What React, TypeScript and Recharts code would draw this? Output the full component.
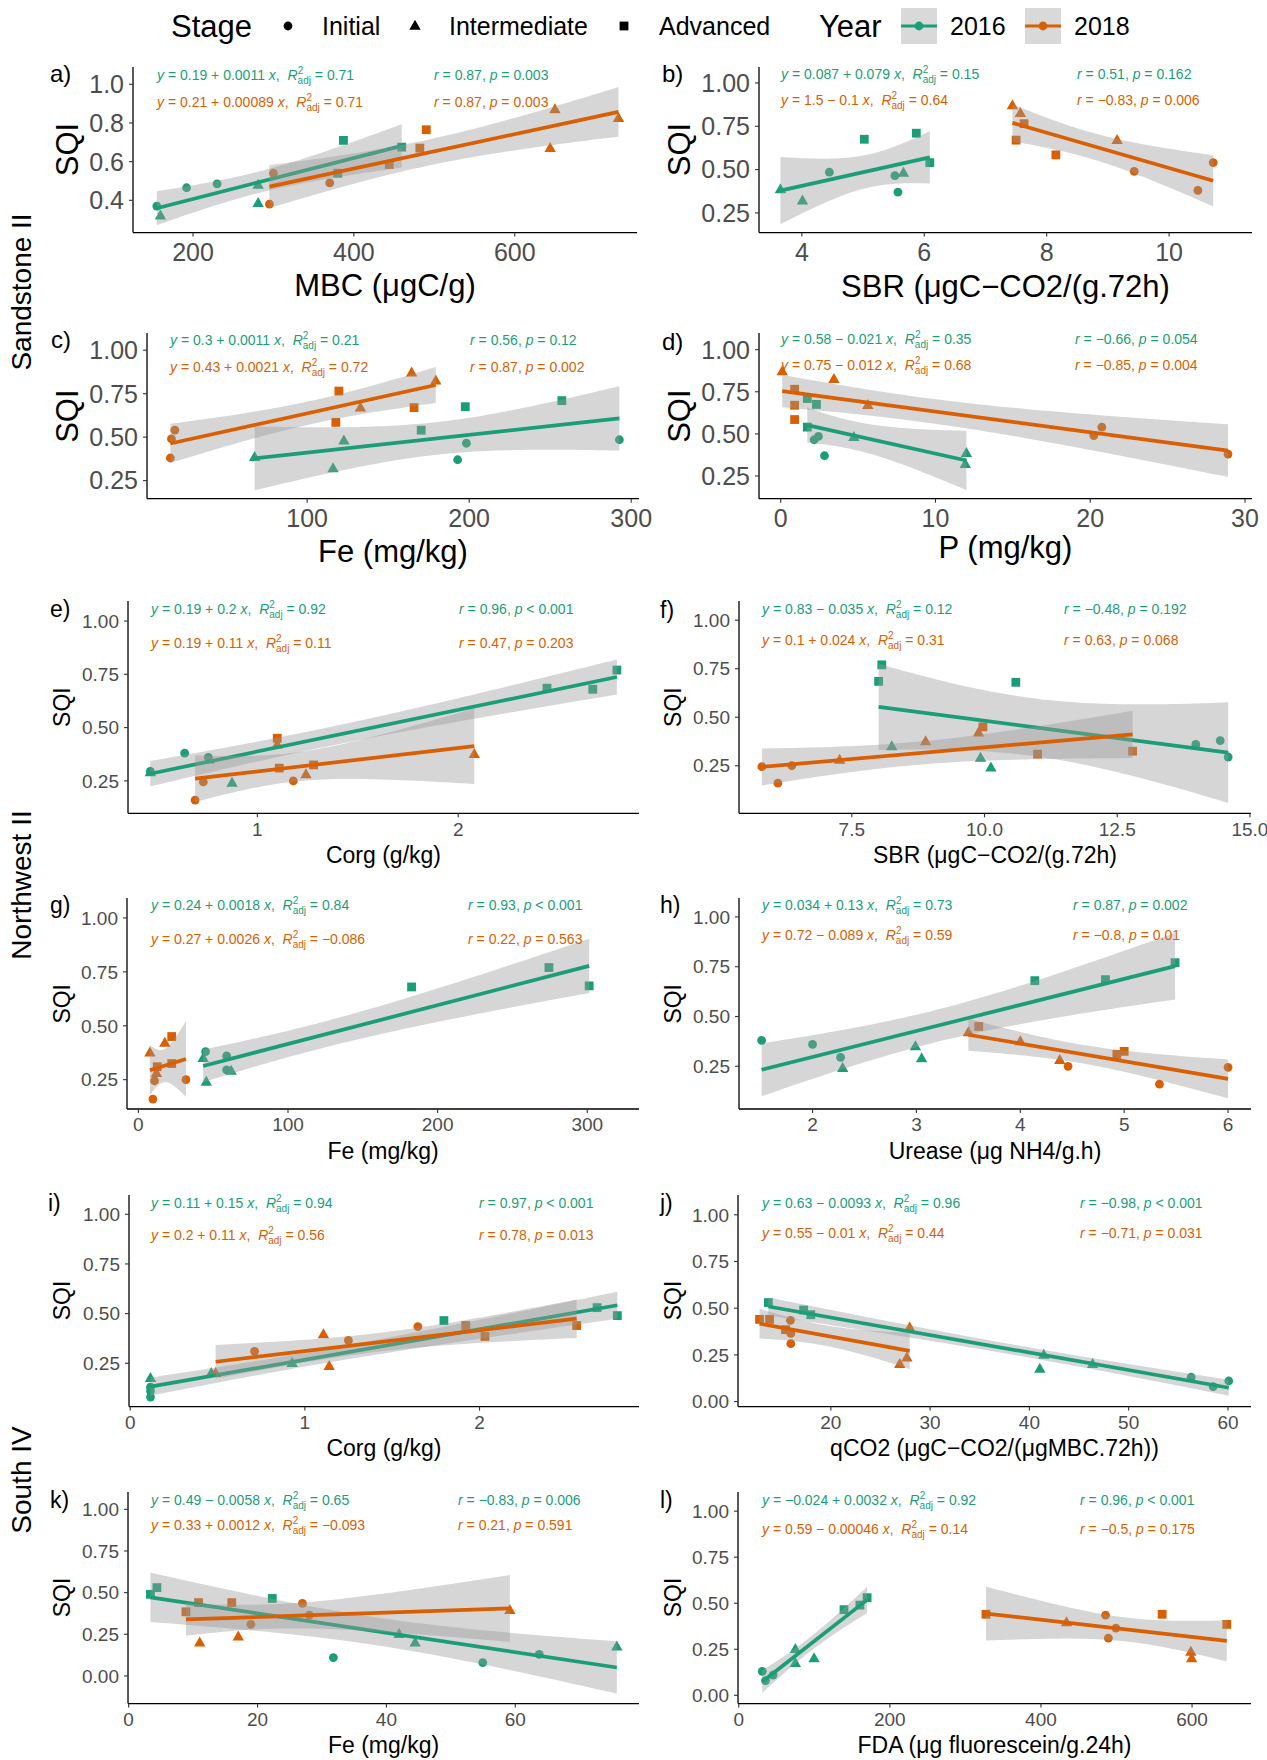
import React from 'react';
import { ComposedChart, XAxis, YAxis, Scatter, Line, Area } from 'recharts';

const GREEN = '#1b9e77';
const ORANGE = '#d95f02';
const FONT = '"Liberation Sans", Arial, Helvetica, sans-serif';

// ---------- data ----------
const stageNames = ['Initial', 'Intermediate', 'Advanced'];
const yearNames = ['2016', '2018'];
const sampleStage = ['Initial', 'Initial', 'Initial', 'Intermediate', 'Intermediate', 'Intermediate', 'Advanced', 'Advanced', 'Advanced'];

const sqiSandstone2016 = [0.37, 0.465, 0.485, 0.32, 0.385, 0.48, 0.54, 0.675, 0.71];
const sqiSandstone2018 = [0.38, 0.49, 0.54, 0.67, 0.825, 0.87, 0.585, 0.67, 0.765];
const sqiNorthwest2016 = [0.38, 0.36, 0.295, 0.24, 0.35, 0.29, 0.68, 0.685, 0.77];
const sqiNorthwest2018 = [0.16, 0.245, 0.25, 0.42, 0.375, 0.28, 0.45, 0.31, 0.325];
const sqiSouth2016 = [0.13, 0.08, 0.11, 0.25, 0.2, 0.175, 0.49, 0.53, 0.465];
const sqiSouth2018 = [0.31, 0.435, 0.365, 0.2, 0.235, 0.395, 0.385, 0.44, 0.44];

const mbcSandstone2016 = [155, 192, 230, 159.5, 281, 281, 380, 459.5, 387];
const mbcSandstone2018 = [295, 370, 300, 644, 729, 650, 444, 482, 490];
const sbrSandstone2016 = [5.57, 5.52, 4.45, 4.01, 3.65, 5.66, 6.09, 5.02, 5.87];
const sbrSandstone2018 = [10.47, 9.43, 10.72, 9.15, 7.57, 7.44, 8.15, 7.5, 7.63];
const feSandstone2016 = [192.9, 198.3, 292.7, 116, 67.6, 122.7, 170.4, 197.6, 257.2];
const feSandstone2018 = [15.6, 16.3, 18.4, 132.9, 179.4, 164.5, 117.7, 166, 119.6];
const pSandstone2016 = [2.83, 2.16, 2.44, 11.93, 12.0, 4.73, 1.72, 2.31, 1.72];
const pSandstone2018 = [28.9, 20.23, 20.75, 5.63, 3.44, 0.1, 0.9, 0.9, 0.9];
const corgNorthwest2016 = [0.638, 0.756, 0.467, 0.874, 0.76, 0.467, 2.67, 2.442, 2.79];
const corgNorthwest2018 = [0.69, 0.731, 1.179, 1.099, 2.08, 1.242, 1.099, 1.109, 1.28];
const sbrNorthwest2016 = [14.44, 13.98, 14.59, 10.12, 8.253, 9.925, 10.59, 8.005, 8.065];
const sbrNorthwest2018 = [6.107, 5.806, 6.37, 9.887, 8.89, 7.27, 9.97, 11.0, 12.79];
const feNorthwest2016 = [44.9, 59, 59, 45.4, 43.3, 62, 182.6, 301.3, 274.4];
const feNorthwest2018 = [9.7, 10.8, 31.8, 17.7, 7.7, 12.1, 22.3, 12.6, 22.3];
const ureaseNorthwest2016 = [1.51, 2.0, 2.27, 2.29, 2.99, 3.05, 4.14, 4.82, 5.49];
const ureaseNorthwest2018 = [5.34, 6.0, 4.46, 3.5, 4.0, 4.38, 3.6, 4.93, 5.0];
const corgSouth2016 = [0.116, 0.116, 0.116, 0.927, 0.464, 0.116, 2.789, 2.673, 1.796];
const corgSouth2018 = [0.712, 1.647, 1.249, 0.489, 1.139, 1.106, 2.031, 1.921, 2.556];
const qco2South2016 = [56.29, 58.51, 60.08, 41.45, 46.37, 41.05, 17.26, 13.71, 17.98];
const qco2South2018 = [15.97, 15.93, 15.97, 26.94, 27.66, 27.94, 15.44, 12.82, 13.83];
const feSouth2016 = [63.72, 54.95, 31.77, 41.97, 44.46, 75.76, 3.38, 4.39, 22.29];
const feSouth2018 = [18.97, 26.97, 28.04, 11.03, 17.01, 59.16, 8.89, 10.85, 16.0];
const fdaSouth2016 = [31.1, 35.4, 45.4, 74.9, 99.7, 74.9, 160.4, 169.9, 139.3];
const fdaSouth2018 = [489.2, 485.5, 499.2, 599.5, 598.4, 433.8, 645.9, 327.2, 560.4];

const panelTags = ['a)', 'b)', 'c)', 'd)', 'e)', 'f)', 'g)', 'h)', 'i)', 'j)', 'k)', 'l)'];
const xTitles = [
  'MBC (μgC/g)', 'SBR (μgC−CO2/(g.72h)', 'Fe (mg/kg)', 'P (mg/kg)',
  'Corg (g/kg)', 'SBR (μgC−CO2/(g.72h)', 'Fe (mg/kg)', 'Urease (μg NH4/g.h)',
  'Corg (g/kg)', 'qCO2 (μgC−CO2/(μgMBC.72h))', 'Fe (mg/kg)', 'FDA (μg fluorescein/g.24h)',
];
const stripLabels = ['Sandstone II', 'Northwest II', 'South IV'];

const eq2016 = ['0.19 + 0.0011', '0.087 + 0.079', '0.3 + 0.0011', '0.58 − 0.021', '0.19 + 0.2', '0.83 − 0.035', '0.24 + 0.0018', '0.034 + 0.13', '0.11 + 0.15', '0.63 − 0.0093', '0.49 − 0.0058', '−0.024 + 0.0032'];
const r2adj2016 = ['0.71', '0.15', '0.21', '0.35', '0.92', '0.12', '0.84', '0.73', '0.94', '0.96', '0.65', '0.92'];
const r2016 = ['0.87', '0.51', '0.56', '−0.66', '0.96', '−0.48', '0.93', '0.87', '0.97', '−0.98', '−0.83', '0.96'];
const p2016 = ['= 0.003', '= 0.162', '= 0.12', '= 0.054', '< 0.001', '= 0.192', '< 0.001', '= 0.002', '< 0.001', '< 0.001', '= 0.006', '< 0.001'];
const eq2018 = ['0.21 + 0.00089', '1.5 − 0.1', '0.43 + 0.0021', '0.75 − 0.012', '0.19 + 0.11', '0.1 + 0.024', '0.27 + 0.0026', '0.72 − 0.089', '0.2 + 0.11', '0.55 − 0.01', '0.33 + 0.0012', '0.59 − 0.00046'];
const r2adj2018 = ['0.71', '0.64', '0.72', '0.68', '0.11', '0.31', '−0.086', '0.59', '0.56', '0.44', '−0.093', '0.14'];
const r2018 = ['0.87', '−0.83', '0.87', '−0.85', '0.47', '0.63', '0.22', '−0.8', '0.78', '−0.71', '0.21', '−0.5'];
const p2018 = ['= 0.003', '= 0.006', '= 0.002', '= 0.004', '= 0.203', '= 0.068', '= 0.563', '= 0.01', '= 0.013', '= 0.031', '= 0.591', '= 0.175'];

const xTicksList = [
  [200, 400, 600], [4, 6, 8, 10], [100, 200, 300], [0, 10, 20, 30],
  [1, 2], [7.5, 10, 12.5, 15], [0, 100, 200, 300], [2, 3, 4, 5, 6],
  [0, 1, 2], [20, 30, 40, 50, 60], [0, 20, 40, 60], [0, 200, 400, 600],
];
const yTicksA = [0.4, 0.6, 0.8, 1.0];
const yTicksMid = [0.25, 0.5, 0.75, 1.0];
const yTicksLow = [0, 0.25, 0.5, 0.75, 1.0];

// ---------- layout ----------
type Cfg = {
  x16: number[]; y16: number[]; x18: number[]; y18: number[];
  rect: number[]; xDomain: number[]; yDomain: number[]; yTicks: number[];
  yDec: number; xDec: number; big: boolean;
  eqX: number; eqY16: number; eqY18: number; rX: number;
  tagX: number; tagY: number; titleY: number; sqiX: number;
};

const PANELS: Cfg[] = [
  { x16: mbcSandstone2016, y16: sqiSandstone2016, x18: mbcSandstone2018, y18: sqiSandstone2018,
    rect: [133, 637, 66.7, 232.3], xDomain: [125.4, 752], yDomain: [0.233, 1.0895], yTicks: yTicksA, yDec: 1, xDec: 0, big: true,
    eqX: 157, eqY16: 79.5, eqY18: 107, rX: 434, tagX: 50, tagY: 82, titleY: 296, sqiX: 78 },
  { x16: sbrSandstone2016, y16: sqiSandstone2016, x18: sbrSandstone2018, y18: sqiSandstone2018,
    rect: [759, 1252, 66.7, 232.3], xDomain: [3.3, 11.354], yDomain: [0.1365, 1.092], yTicks: yTicksMid, yDec: 2, xDec: 0, big: true,
    eqX: 781, eqY16: 78.5, eqY18: 105, rX: 1077, tagX: 662, tagY: 82, titleY: 297, sqiX: 690 },
  { x16: feSandstone2016, y16: sqiSandstone2016, x18: feSandstone2018, y18: sqiSandstone2018,
    rect: [147, 639, 333.3, 499], xDomain: [1.2, 304.8], yDomain: [0.146, 1.099], yTicks: yTicksMid, yDec: 2, xDec: 0, big: true,
    eqX: 170, eqY16: 344.5, eqY18: 372, rX: 470, tagX: 51, tagY: 348, titleY: 562, sqiX: 78 },
  { x16: pSandstone2016, y16: sqiSandstone2016, x18: pSandstone2018, y18: sqiSandstone2018,
    rect: [759, 1252, 333.3, 499], xDomain: [-1.4, 30.45], yDomain: [0.115, 1.099], yTicks: yTicksMid, yDec: 2, xDec: 0, big: true,
    eqX: 781, eqY16: 343.5, eqY18: 370, rX: 1075, tagX: 662, tagY: 350, titleY: 558, sqiX: 690 },
  { x16: corgNorthwest2016, y16: sqiNorthwest2016, x18: corgNorthwest2018, y18: sqiNorthwest2018,
    rect: [128, 639, 601, 813.3], xDomain: [0.356, 2.9], yDomain: [0.098, 1.094], yTicks: yTicksMid, yDec: 2, xDec: 0, big: false,
    eqX: 151, eqY16: 613.5, eqY18: 648, rX: 459, tagX: 50, tagY: 617, titleY: 863, sqiX: 70 },
  { x16: sbrNorthwest2016, y16: sqiNorthwest2016, x18: sbrNorthwest2018, y18: sqiNorthwest2018,
    rect: [739, 1251, 601, 813.3], xDomain: [5.375, 15.02], yDomain: [0.005, 1.099], yTicks: yTicksMid, yDec: 2, xDec: 1, big: false,
    eqX: 762, eqY16: 613.5, eqY18: 644.5, rX: 1064, tagX: 660, tagY: 618, titleY: 863, sqiX: 681 },
  { x16: feNorthwest2016, y16: sqiNorthwest2016, x18: feNorthwest2018, y18: sqiNorthwest2018,
    rect: [127, 639, 898.3, 1109.3], xDomain: [-7.6, 334.6], yDomain: [0.114, 1.0925], yTicks: yTicksMid, yDec: 2, xDec: 0, big: false,
    eqX: 151, eqY16: 910, eqY18: 943.5, rX: 468, tagX: 50, tagY: 913, titleY: 1159, sqiX: 70 },
  { x16: ureaseNorthwest2016, y16: sqiNorthwest2016, x18: ureaseNorthwest2018, y18: sqiNorthwest2018,
    rect: [739, 1251, 898.3, 1109.3], xDomain: [1.292, 6.221], yDomain: [0.0356, 1.095], yTicks: yTicksMid, yDec: 2, xDec: 0, big: false,
    eqX: 762, eqY16: 910, eqY18: 940, rX: 1073, tagX: 660, tagY: 913, titleY: 1159, sqiX: 681 },
  { x16: corgSouth2016, y16: sqiSouth2016, x18: corgSouth2018, y18: sqiSouth2018,
    rect: [129, 639, 1194.7, 1406.3], xDomain: [-0.007, 2.913], yDomain: [0.032, 1.097], yTicks: yTicksMid, yDec: 2, xDec: 0, big: false,
    eqX: 151, eqY16: 1207.5, eqY18: 1240, rX: 479, tagX: 48, tagY: 1211, titleY: 1456, sqiX: 70 },
  { x16: qco2South2016, y16: sqiSouth2016, x18: qco2South2018, y18: sqiSouth2018,
    rect: [738, 1251, 1194.7, 1406.3], xDomain: [10.65, 62.32], yDomain: [-0.027, 1.106], yTicks: yTicksLow, yDec: 2, xDec: 0, big: false,
    eqX: 762, eqY16: 1207.5, eqY18: 1237.5, rX: 1080, tagX: 660, tagY: 1211, titleY: 1456, sqiX: 681 },
  { x16: feSouth2016, y16: sqiSouth2016, x18: feSouth2018, y18: sqiSouth2018,
    rect: [128, 639, 1491.7, 1703.3], xDomain: [-0.1, 79.2], yDomain: [-0.166, 1.104], yTicks: yTicksLow, yDec: 2, xDec: 0, big: false,
    eqX: 151, eqY16: 1504.5, eqY18: 1530, rX: 458, tagX: 50, tagY: 1508, titleY: 1753, sqiX: 70 },
  { x16: fdaSouth2016, y16: sqiSouth2016, x18: fdaSouth2018, y18: sqiSouth2018,
    rect: [738, 1251, 1491.7, 1703.3], xDomain: [-1, 678], yDomain: [-0.045, 1.104], yTicks: yTicksLow, yDec: 2, xDec: 0, big: false,
    eqX: 762, eqY16: 1504.5, eqY18: 1533.5, rX: 1080, tagX: 660, tagY: 1508, titleY: 1753, sqiX: 681 },
];

// ---------- linear fit + 95% confidence band (as geom_smooth(method = "lm")) ----------
function fitLm(xs: number[], ys: number[]) {
  const n = xs.length;
  const mx = xs.reduce((s, v) => s + v, 0) / n;
  const my = ys.reduce((s, v) => s + v, 0) / n;
  let sxx = 0, sxy = 0;
  for (let i = 0; i < n; i++) { sxx += (xs[i] - mx) ** 2; sxy += (xs[i] - mx) * (ys[i] - my); }
  const b = sxy / sxx;
  const a = my - b * mx;
  let sse = 0;
  for (let i = 0; i < n; i++) sse += (ys[i] - a - b * xs[i]) ** 2;
  const s = Math.sqrt(sse / (n - 2));
  const t = 2.364624; // qt(0.975, 7)
  const lo = Math.min(...xs), hi = Math.max(...xs);
  const band: { x: number; band: number[] }[] = [];
  const steps = 80;
  for (let k = 0; k <= steps; k++) {
    const x = lo + ((hi - lo) * k) / steps;
    const yh = a + b * x;
    const se = s * Math.sqrt(1 / n + (x - mx) ** 2 / sxx);
    band.push({ x, band: [yh - t * se, yh + t * se] });
  }
  const line = [{ x: lo, y: a + b * lo }, { x: hi, y: a + b * hi }];
  return { band, line };
}

function markerPath(stage: string, cx: number, cy: number, color: string) {
  if (stage === 'Initial') return <circle cx={cx} cy={cy} r={4.4} fill={color} />;
  if (stage === 'Intermediate') {
    const w = 11.4, h = 10;
    return <polygon points={`${cx},${cy - h * 0.62} ${cx - w / 2},${cy + h * 0.38} ${cx + w / 2},${cy + h * 0.38}`} fill={color} />;
  }
  return <rect x={cx - 4.4} y={cy - 4.4} width={8.8} height={8.8} fill={color} />;
}

const makeShape = (stage: string, color: string) => (props: any) => {
  const { cx, cy } = props;
  if (cx == null || cy == null || isNaN(cx) || isNaN(cy)) return <g />;
  return markerPath(stage, cx, cy, color);
};

function Panel({ cfg }: { cfg: Cfg }) {
  const big = cfg.big;
  const YW = big ? 72 : 62;
  const MT = 12, MR = 26, XH = 48;
  const [l, r, t, b] = cfg.rect;
  const W = r - l + YW + MR;
  const H = b - t + MT + XH;
  const f16 = fitLm(cfg.x16, cfg.y16);
  const f18 = fitLm(cfg.x18, cfg.y18);
  const pts = (xs: number[], ys: number[], stage: string) =>
    xs.map((x, i) => ({ x, y: ys[i], stage: sampleStage[i] })).filter((d) => d.stage === stage);
  const tickFont = big ? 25 : 19;
  return (
    <div style={{ position: 'absolute', left: l - YW, top: t - MT, width: W, height: H }}>
      <ComposedChart width={W} height={H} margin={{ top: MT, right: MR, bottom: 0, left: 0 }}>
        <XAxis
          type="number" dataKey="x" domain={cfg.xDomain} ticks={xTicksList[PANELS.indexOf(cfg)]} allowDataOverflow
          height={XH} interval={0} tickSize={4} tickMargin={big ? 7 : 5}
          axisLine={{ stroke: '#000', strokeWidth: 1.3 }} tickLine={{ stroke: '#333', strokeWidth: 1.1 }}
          tick={{ fill: '#4d4d4d', fontSize: tickFont, fontFamily: FONT }}
          tickFormatter={(v: number) => (cfg.xDec ? v.toFixed(cfg.xDec) : String(v))}
        />
        <YAxis
          type="number" domain={cfg.yDomain} ticks={cfg.yTicks} allowDataOverflow
          width={YW} interval={0} tickSize={4} tickMargin={5}
          axisLine={{ stroke: '#000', strokeWidth: 1.3 }} tickLine={{ stroke: '#333', strokeWidth: 1.1 }}
          tick={{ fill: '#4d4d4d', fontSize: tickFont, fontFamily: FONT }}
          tickFormatter={(v: number) => v.toFixed(cfg.yDec)}
        />
        {stageNames.map((s) => (
          <Scatter key={'g' + s} name={'2016 ' + s} data={pts(cfg.x16, cfg.y16, s)} dataKey="y" fill={GREEN}
            shape={makeShape(s, GREEN)} isAnimationActive={false} zIndex={50} />
        ))}
        {stageNames.map((s) => (
          <Scatter key={'o' + s} name={'2018 ' + s} data={pts(cfg.x18, cfg.y18, s)} dataKey="y" fill={ORANGE}
            shape={makeShape(s, ORANGE)} isAnimationActive={false} zIndex={55} />
        ))}
        <Area data={f16.band} dataKey="band" stroke="none" fill="#999999" fillOpacity={0.4}
          isAnimationActive={false} dot={false} activeDot={false} zIndex={100} />
        <Line data={f16.line} dataKey="y" stroke={GREEN} strokeWidth={3.7} dot={false} activeDot={false}
          isAnimationActive={false} zIndex={110} />
        <Area data={f18.band} dataKey="band" stroke="none" fill="#999999" fillOpacity={0.4}
          isAnimationActive={false} dot={false} activeDot={false} zIndex={120} />
        <Line data={f18.line} dataKey="y" stroke={ORANGE} strokeWidth={3.7} dot={false} activeDot={false}
          isAnimationActive={false} zIndex={130} />
      </ComposedChart>
    </div>
  );
}

function EqText({ x, y, color, eq, r2 }: { x: number; y: number; color: string; eq: string; r2: string }) {
  return (
    <text x={x} y={y} fill={color} fontSize={14} style={{ whiteSpace: 'pre' }}>
      <tspan fontStyle="italic">y</tspan>
      <tspan>{' = ' + eq + ' '}</tspan>
      <tspan fontStyle="italic">x</tspan>
      <tspan>{',  '}</tspan>
      <tspan fontStyle="italic">R</tspan>
      <tspan fontSize={10} dy={-6}>2</tspan>
      <tspan fontSize={10} dx={-5.6} dy={10}>adj</tspan>
      <tspan dy={-4}>{' = ' + r2}</tspan>
    </text>
  );
}

function CorText({ x, y, color, r, p }: { x: number; y: number; color: string; r: string; p: string }) {
  return (
    <text x={x} y={y} fill={color} fontSize={14} style={{ whiteSpace: 'pre' }}>
      <tspan fontStyle="italic">r</tspan>
      <tspan>{' = ' + r + ', '}</tspan>
      <tspan fontStyle="italic">p</tspan>
      <tspan>{' ' + p}</tspan>
    </text>
  );
}

function Overlay() {
  const stripPos = [292, 885, 1480];
  const legendY = 26;
  return (
    <svg width={1267} height={1760} style={{ position: 'absolute', left: 0, top: 0, pointerEvents: 'none' }} fontFamily={FONT}>
      {/* legend */}
      <text x={171} y={legendY + 11} fontSize={31} fill="#000">Stage</text>
      {markerPath('Initial', 288, legendY, '#000')}
      <text x={322} y={legendY + 9} fontSize={25} fill="#000">{stageNames[0]}</text>
      {markerPath('Intermediate', 415, legendY, '#000')}
      <text x={449} y={legendY + 9} fontSize={25} fill="#000">{stageNames[1]}</text>
      {markerPath('Advanced', 624, legendY, '#000')}
      <text x={659} y={legendY + 9} fontSize={25} fill="#000">{stageNames[2]}</text>
      <text x={819} y={legendY + 11} fontSize={31} fill="#000">Year</text>
      {[GREEN, ORANGE].map((c, i) => {
        const bx = i === 0 ? 901 : 1025;
        return (
          <g key={c}>
            <rect x={bx} y={legendY - 18} width={36} height={36} fill="#d9d9d9" />
            <line x1={bx} x2={bx + 36} y1={legendY} y2={legendY} stroke={c} strokeWidth={3} />
            {markerPath('Initial', bx + 18, legendY, c)}
            <text x={bx + 49} y={legendY + 9} fontSize={25} fill="#000">{yearNames[i]}</text>
          </g>
        );
      })}
      {/* strip labels */}
      {stripLabels.map((s, i) => (
        <text key={s} transform={`translate(31,${stripPos[i]}) rotate(-90)`} textAnchor="middle" fontSize={28} fill="#000">{s}</text>
      ))}
      {PANELS.map((p, i) => {
        const [l, r, t, b] = p.rect;
        const cx = (l + r) / 2;
        const cy = (t + b) / 2;
        return (
          <g key={i}>
            <text x={p.tagX} y={p.tagY} fontSize={p.big ? 24 : 23} fill="#000">{panelTags[i]}</text>
            <text x={cx} y={p.titleY} textAnchor="middle" fontSize={p.big ? 31 : 23} fill="#000">{xTitles[i]}</text>
            <text transform={`translate(${p.sqiX},${cy}) rotate(-90)`} textAnchor="middle" fontSize={p.big ? 31 : 23} fill="#000">SQI</text>
            <EqText x={p.eqX} y={p.eqY16} color={GREEN} eq={eq2016[i]} r2={r2adj2016[i]} />
            <EqText x={p.eqX} y={p.eqY18} color={ORANGE} eq={eq2018[i]} r2={r2adj2018[i]} />
            <CorText x={p.rX} y={p.eqY16} color={GREEN} r={r2016[i]} p={p2016[i]} />
            <CorText x={p.rX} y={p.eqY18} color={ORANGE} r={r2018[i]} p={p2018[i]} />
          </g>
        );
      })}
    </svg>
  );
}

export default function App() {
  return (
    <div style={{ position: 'absolute', left: 0, top: 0, width: 1267, height: 1760, background: '#fff', fontFamily: FONT }}>
      {PANELS.map((cfg, i) => (
        <Panel key={i} cfg={cfg} />
      ))}
      <Overlay />
    </div>
  );
}
